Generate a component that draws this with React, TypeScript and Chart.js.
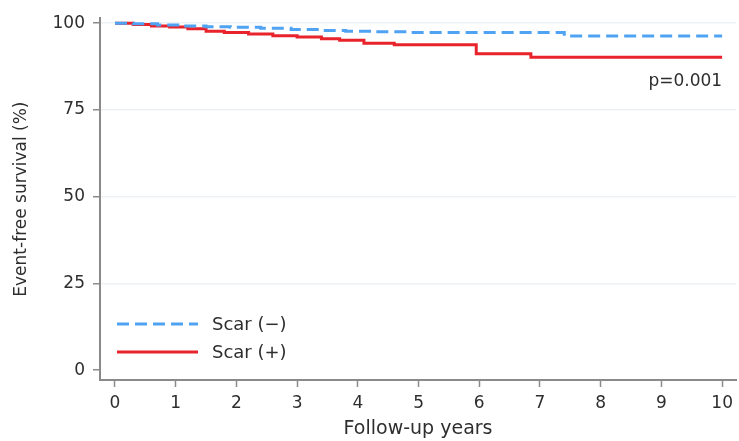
import React, { useEffect, useRef } from 'react';
import { Chart, registerables } from 'chart.js';

Chart.register(...registerables);

// Kaplan-Meier steps (time in years, survival in %)
const scarNegTimes = [0, 0.3, 0.7, 1.1, 1.5, 1.9, 2.4, 2.9, 3.4, 3.8, 4.3, 4.8, 7.4, 10];
const scarNegSurvival = [100, 99.8, 99.5, 99.2, 99.0, 98.8, 98.5, 98.2, 97.9, 97.7, 97.5, 97.3, 96.3, 96.3];

const scarPosTimes = [0, 0.3, 0.6, 0.9, 1.2, 1.5, 1.8, 2.2, 2.6, 3.0, 3.4, 3.7, 4.1, 4.6, 5.95, 6.85, 10];
const scarPosSurvival = [100, 99.6, 99.2, 98.9, 98.4, 97.7, 97.3, 96.9, 96.4, 96.0, 95.5, 95.1, 94.2, 93.8, 91.2, 90.2, 90.2];

const xTickValues = [0, 1, 2, 3, 4, 5, 6, 7, 8, 9, 10];
const yTickValues = [0, 25, 50, 75, 100];

const seriesLabels = ['Scar (\u2212)', 'Scar (+)'];
const xTitle = 'Follow-up years';
const yTitle = 'Event-free survival (%)';
const pValueText = 'p=0.001';
const pValueAt = { x: 10, y: 82 };

const FONT = '"DejaVu Sans", "Liberation Sans", sans-serif';
const TEXT = '#2e2e2e';
const AXIS = '#8a8a8a';

const overlayPlugin = {
  id: 'overlay',
  afterDatasetsDraw(chart: any) {
    const { ctx, chartArea: a, scales } = chart;
    const xs = scales.x;
    const ys = scales.y;
    ctx.save();
    ctx.font = `17px ${FONT}`;
    ctx.fillStyle = TEXT;
    ctx.textAlign = 'right';
    ctx.textBaseline = 'alphabetic';
    ctx.fillText(pValueText, xs.getPixelForValue(pValueAt.x), ys.getPixelForValue(pValueAt.y));

    ctx.font = `18px ${FONT}`;
    chart.data.datasets.forEach((ds: any, i: number) => {
      const yy = a.bottom - 56 + i * 28;
      ctx.strokeStyle = ds.borderColor;
      ctx.lineWidth = ds.borderWidth;
      ctx.setLineDash(ds.borderDash || []);
      ctx.beginPath();
      ctx.moveTo(a.left + 17, yy);
      ctx.lineTo(a.left + 98, yy);
      ctx.stroke();
      ctx.setLineDash([]);
      ctx.textAlign = 'left';
      ctx.textBaseline = 'middle';
      ctx.fillStyle = TEXT;
      ctx.fillText(ds.label, a.left + 112, yy + 1);
    });
    ctx.restore();
  },
};

export default function App() {
  const canvasRef = useRef<HTMLCanvasElement | null>(null);

  useEffect(() => {
    document.body.style.margin = '0';
    const canvas = canvasRef.current;
    if (!canvas) return;

    const chart = new Chart(canvas, {
      type: 'line',
      data: {
        datasets: [
          {
            label: seriesLabels[0],
            data: scarNegTimes.map((t, i) => ({ x: t, y: scarNegSurvival[i] })),
            borderColor: '#4fa3f2',
            borderWidth: 3,
            borderDash: [12, 6],
            stepped: 'before',
            pointRadius: 0,
            fill: false,
          },
          {
            label: seriesLabels[1],
            data: scarPosTimes.map((t, i) => ({ x: t, y: scarPosSurvival[i] })),
            borderColor: '#e8232b',
            borderWidth: 3,
            stepped: 'before',
            pointRadius: 0,
            fill: false,
          },
        ],
      },
      options: {
        animation: false,
        responsive: true,
        maintainAspectRatio: false,
        layout: { padding: { top: 15, right: 2, left: 0, bottom: 0 } },
        plugins: {
          legend: { display: false },
          tooltip: { enabled: false },
        },
        scales: {
          x: {
            type: 'linear',
            min: -0.247,
            max: 10.23,
            afterBuildTicks: (s: any) => {
              s.ticks = xTickValues.map((v) => ({ value: v }));
            },
            afterFit: (s: any) => {
              s.height = 61;
            },
            ticks: {
              autoSkip: false,
              maxRotation: 0,
              padding: 6,
              color: TEXT,
              font: { family: FONT, size: 17 },
            },
            grid: {
              drawOnChartArea: false,
              tickLength: 7,
              tickColor: AXIS,
              tickWidth: 1.5,
            },
            border: { display: true, color: AXIS, width: 2 },
            title: {
              display: true,
              text: xTitle,
              color: TEXT,
              font: { family: FONT, size: 19 },
              padding: { top: 0, bottom: 1 },
            },
          },
          y: {
            type: 'linear',
            min: -2.857,
            max: 101.43,
            afterBuildTicks: (s: any) => {
              s.ticks = yTickValues.map((v) => ({ value: v }));
            },
            afterFit: (s: any) => {
              s.width = 100;
            },
            ticks: {
              padding: 8,
              color: TEXT,
              font: { family: FONT, size: 17 },
            },
            grid: {
              drawOnChartArea: true,
              color: (c: any) => (c.tick && c.tick.value === 0 ? 'rgba(0,0,0,0)' : '#eef1f3'),
              lineWidth: 1.5,
              tickLength: 7,
              tickColor: AXIS,
              tickWidth: 1.5,
            },
            border: { display: true, color: AXIS, width: 2 },
            title: {
              display: true,
              text: yTitle,
              color: TEXT,
              font: { family: FONT, size: 17 },
              padding: { top: 11, bottom: 0 },
            },
          },
        },
      },
      plugins: [overlayPlugin],
    });

    return () => chart.destroy();
  }, []);

  return (
    <div style={{ width: 739, height: 441, position: 'relative', background: '#ffffff' }}>
      <canvas ref={canvasRef} />
    </div>
  );
}
